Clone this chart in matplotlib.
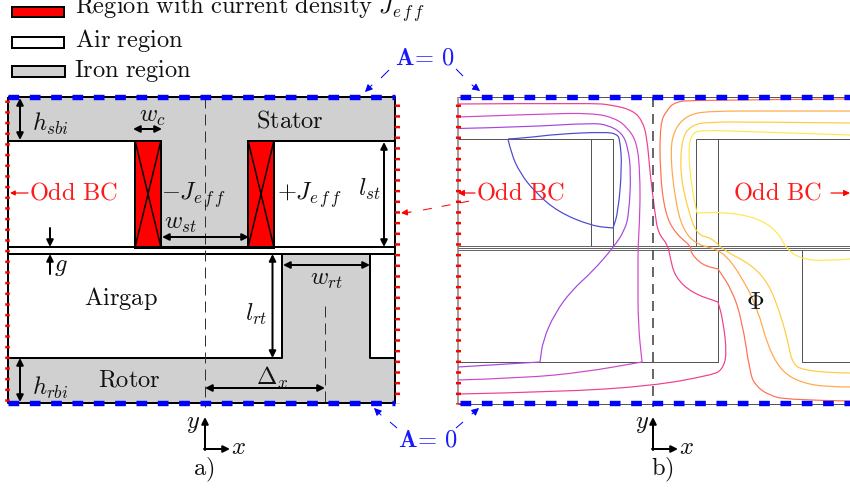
import matplotlib
matplotlib.use('Agg')
import matplotlib.pyplot as plt
from matplotlib.patches import Rectangle, Polygon, PathPatch
from matplotlib.path import Path

plt.rcParams['mathtext.fontset'] = 'cm'
plt.rcParams['font.family'] = ['cmr10', 'DejaVu Sans']
plt.rcParams['axes.formatter.use_mathtext'] = True
plt.rcParams['lines.scale_dashes'] = False

W, H = 850, 488
PX = 0.72  # points per pixel at dpi 100

# field lines of panel b), in image pixels (a doubled point is a sharp corner)
line_blue = [(508,139),(511,153),(520,173),(535,192),(558,212),(592,226),(613,228),(613,228),(618,213),(622,167),(620,140),(617,134),(605,132),(558,134),(525,138),(508,139)]
line_purple = [(458,128.5),(525,127),(592,123),(608,125),(622,133),(628,147),(631,173),(629,213),(625,230),(613,248),(592,272),(572,290),(555,313),(543,340),(540,362),(540,362),(458,367)]
line_magenta = [(458,117),(542,114),(592,113),(615,118),(628,128),(637,143),(640,173),(640,213),(638,247),(638,273),(638,323),(642,362),(642,362),(585,372),(525,378),(458,380)]
line_pink = [(458,104),(592,103),(612,105),(632,110),(642,120),(647,137),(650,173),(655,213),(658,233),(668,245),(670,257),(675,277),(692,293),(718,302),(718,302),(723,320),(727,355),(722,370),(712,375),(652,386),(558,392),(458,394)]
line_red = [(850,99),(692,100),(675,102),(667,110),(660,123),(660,173),(665,213),(675,233),(692,247),(690,252),(702,265),(718,269),(718,269),(732,290),(742,320),(750,373),(755,385),(768,395),(788,400),(850,401)]
line_orange = [(850,111),(775,111),(708,111),(688,115),(675,128),(670,150),(675,200),(683,230),(697,245),(722,250),(742,277),(758,310),(768,347),(782,372),(802,383),(828,387),(850,387)]
line_amber = [(850,123),(758,122),(708,122),(692,125),(682,137),(680,173),(688,210),(697,235),(712,238),(723,250),(752,265),(768,283),(778,307),(787,337),(792,363),(802,370),(835,373),(850,373)]
line_yellow = [(850,135),(758,132),(702,130),(692,133),(688,150),(692,190),(697,213),(697,213),(725,212),(758,218),(778,232),(787,250),(802,259),(825,261),(850,259)]
field_lines = [line_blue, line_purple, line_magenta, line_pink, line_red, line_orange, line_amber, line_yellow]
field_colors = ['#4a4ad0', '#a548e0', '#d048c8', '#f0408c', '#ff7050', '#ffa848', '#ffcc40', '#ffe850']

fig = plt.figure(figsize=(W / 100, H / 100), dpi=100)
ax = fig.add_axes([0, 0, 1, 1])
ax.set_xlim(0, W)
ax.set_ylim(H, 0)
ax.axis('off')


def txt(x, y, s, color='#111111', size=17.6, ha='center'):
    ax.text(x, y, s, color=color, fontsize=size, ha=ha, va='center')


def arrow(x0, y0, x1, y1, style='-|>', color='black', lw=2.0, scale=10):
    ax.annotate('', xy=(x1, y1), xytext=(x0, y0),
                arrowprops=dict(arrowstyle=style, color=color, lw=lw * PX,
                                mutation_scale=scale, shrinkA=0, shrinkB=0))


def seg(xs, ys, color='black', lw=2.0, **kw):
    ax.plot(xs, ys, color=color, lw=lw * PX, solid_capstyle='butt', **kw)


def box(x0, y0, x1, y1, face, edge='black', lw=2.0):
    ax.add_patch(Rectangle((x0, y0), x1 - x0, y1 - y0, fc=face, ec=edge, lw=lw * PX))


def curve(pts, color):
    # points act as control points of quadratic pieces
    verts = [pts[0]]
    codes = [Path.MOVETO]
    for i in range(1, len(pts) - 1):
        verts.append(pts[i])
        codes.append(Path.CURVE3)
        if i < len(pts) - 2:
            verts.append(((pts[i][0] + pts[i + 1][0]) / 2, (pts[i][1] + pts[i + 1][1]) / 2))
        else:
            verts.append(pts[-1])
        codes.append(Path.CURVE3)
    ax.add_patch(PathPatch(Path(verts, codes), fc='none', ec=color, lw=1.2 * PX, zorder=3))


IRON = '#d0d0d0'
dash_a = (0, (11 * PX, 6 * PX))
dash_b = (0, (10 * PX, 7 * PX))
dash_blue = (0, (10.7 * PX, 10.63 * PX))
dash_red = (0, (2.5 * PX, 8.17 * PX))
JEFF = r'J_{e\,f\,f}'

# legend
box(12, 7, 64, 17, '#ff0000')
box(12, 37, 64, 48, 'white')
box(12, 66, 65, 77, IRON)
txt(75, 9, r'$\mathrm{Region\ with\ current\ density}\ ' + JEFF + '$', ha='left')
txt(75, 40, r'$\mathrm{Air\ region}$', ha='left')
txt(74, 71, r'$\mathrm{Iron\ region}$', ha='left')

# panel a) regions
stator = [(8,97),(395,97),(395,140),(274,140),(274,248),(135,248),(135,140),(8,140)]
ax.add_patch(Rectangle((8, 97), 387, 306, fc='white', ec='none'))
ax.add_patch(Polygon(stator, closed=True, fc=IRON, ec='none'))
ax.add_patch(Rectangle((8, 358), 387, 45, fc=IRON, ec='none'))
ax.add_patch(Rectangle((282, 254), 88, 104, fc=IRON, ec='none'))
seg([8, 395, 395, 8, 8], [97, 97, 403, 403, 97])
seg([8, 135], [140.5, 140.5])
seg([161, 248], [248, 248])
seg([274, 395], [140.5, 140.5])
seg([8, 395], [247, 247])
seg([8, 395], [253.5, 253.5])
seg([8, 282, 282], [358, 358, 254])
seg([370, 370, 395], [254, 358, 358])
for x0, x1 in [(135, 161), (248, 274)]:
    box(x0, 140.5, x1, 247.5, '#ff0000')
    seg([x0, x1], [140.5, 247.5], lw=1.5)
    seg([x0, x1], [247.5, 140.5], lw=1.5)
seg([205, 205], [97, 407], color='#333333', lw=1.0, linestyle=dash_a)
seg([325, 325], [306, 403], color='#333333', lw=1.0, linestyle=dash_a)

# panel a) dimensions
arrow(20, 98, 20, 140, '<|-|>')
arrow(133, 129, 162, 129, '<|-|>')
arrow(384, 142, 384, 247, '<|-|>')
arrow(162, 237, 249, 237, '<|-|>')
arrow(50, 228, 50, 247)
arrow(50, 274, 50, 254)
arrow(272.5, 254, 272.5, 358, '<|-|>')
arrow(283, 265, 370, 265, '<|-|>')
arrow(205, 388, 325, 388, '<|-|>')
arrow(20, 358, 20, 402, '<|-|>')
txt(50, 124, r'$h_{sbi}$')
txt(152, 117, r'$w_c$')
txt(369, 189, r'$l_{st}$')
txt(194, 195, r'$-' + JEFF + '$')
txt(310, 195, r'$+' + JEFF + '$')
txt(181, 224, r'$w_{st}$')
txt(61, 267, r'$g$')
txt(256, 314, r'$l_{rt}$')
txt(326, 280, r'$w_{rt}$')
txt(272, 378, r'$\Delta_x$')
txt(50, 388, r'$h_{rbi}$')
txt(290, 121, r'$\mathrm{Stator}$')
txt(121, 299, r'$\mathrm{Airgap}$')
txt(129, 380, r'$\mathrm{Rotor}$')

# panel b) geometry
GR = '#555555'
seg([458, 850], [97, 97], color=GR, lw=1.0)
seg([458, 850], [404, 404], color=GR, lw=1.0)
seg([458, 458], [97, 404], color='#888888', lw=1.6)
seg([458, 613, 613], [139, 139, 246], color=GR, lw=1.0)
seg([591, 591], [139, 246], color=GR, lw=1.0)
seg([696, 696], [246, 139], color=GR, lw=1.0)
seg([696, 850], [139, 139], color=GR, lw=1.0)
seg([718, 718], [139, 246], color=GR, lw=1.0)
for yy in [246, 248, 250]:
    seg([458, 850], [yy, yy], color=GR, lw=0.9)
seg([458, 718, 718], [361.5, 361.5, 250], color=GR, lw=1.0)
seg([802, 802, 850], [250, 361.5, 361.5], color=GR, lw=1.0)
for pts, col in zip(field_lines, field_colors):
    curve(pts, col)
seg([653, 653], [97, 407], color='#444444', lw=1.6, linestyle=dash_b, zorder=4)
txt(755, 303, r'$\Phi$')

# boundary markers
ax.plot([7, 7], [100, 403], color='#ff0000', lw=4.5 * PX, linestyle=dash_red, dash_capstyle='butt', zorder=5)
ax.plot([397, 397], [104, 403], color='#ff0000', lw=5 * PX, linestyle=dash_red, dash_capstyle='butt', zorder=5)
ax.plot([458.5, 458.5], [104, 404], color='#ff0000', lw=5 * PX, linestyle=dash_red, dash_capstyle='butt', zorder=5)
for x0, x1 in [(8, 395), (460, 850)]:
    for yy in [97, 403]:
        ax.plot([x0, x1], [yy, yy], color='#0000ff', lw=5.4 * PX, linestyle=dash_blue, dash_capstyle='butt', zorder=5)

# boundary annotations
BLUE = '#1a1aff'
RED = '#ff1a1a'
txt(425, 58, r'$\mathbf{A}\!=\,\mathrm{0}$', color=BLUE)
txt(428, 440, r'$\mathbf{A}\!=\,\mathrm{0}$', color=BLUE)
for dash, head in [(((389, 70), (381, 78)), ((372, 85), (365, 92))),
                   (((456, 69), (463, 76)), ((472, 85), (480, 91))),
                   (((397, 428), (390, 422)), ((381, 415), (374, 408))),
                   (((456, 428), (463, 422)), ((472, 414), (479, 408)))]:
    seg([dash[0][0], dash[1][0]], [dash[0][1], dash[1][1]], color='#0000ff', lw=1.0)
    arrow(head[0][0], head[0][1], head[1][0], head[1][1], color='#0000ff', lw=1.0, scale=11)
txt(73, 193, r'$\mathrm{Odd\ BC}$', color=RED)
txt(520, 193, r'$\mathrm{Odd\ BC}$', color=RED)
txt(777, 193, r'$\mathrm{Odd\ BC}$', color=RED)
arrow(28, 193, 10, 193, color='#ff0000', lw=1.2, scale=7)
arrow(475, 193, 458, 193, color='#ff0000', lw=1.2, scale=9)
arrow(831, 193, 850, 193, color='#ff0000', lw=1.2, scale=9)
arrow(411, 212, 401, 213, color='#ff0000', lw=1.2, scale=9)
ax.plot([423, 475], [210, 200], color='#ff0000', lw=1.0 * PX, linestyle=(0, (9 * PX, 10 * PX)))

# coordinate crosses and captions
for ox, lab, lx, yl in [(205, 'a)', 204, 193), (653, 'b)', 662, 642)]:
    arrow(ox, 450, ox, 417)
    arrow(ox - 1, 449, ox + 25, 449)
    txt(yl, 424, r'$y$')
    txt(ox + 33, 448, r'$x$')
    txt(lx, 470, r'$\mathrm{' + lab + '}$')

fig.savefig('out.png', dpi=100)
